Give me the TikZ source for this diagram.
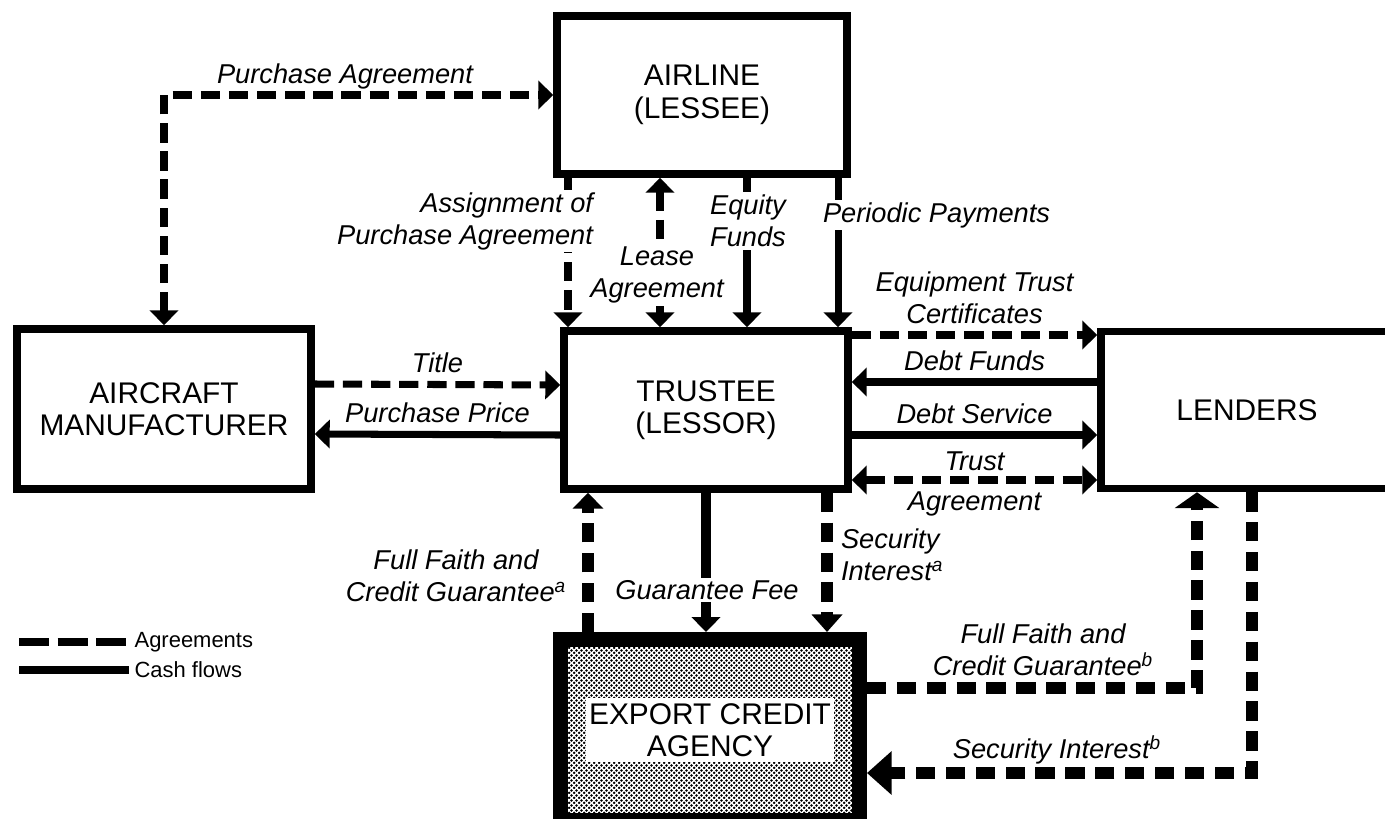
\documentclass[tikz,border=0pt]{standalone}
\usepackage{fontspec}
\setsansfont{Liberation Sans}
\usetikzlibrary{arrows.meta,patterns.meta}

\tikzdeclarepattern{
  name=ecadots,
  type=uncolored,
  bottom left={(0pt,0pt)},
  top right={(3pt,3pt)},
  tile size={(3pt,3pt)},
  code={
    \fill (0.75pt,0.75pt) circle [radius=0.9pt];
    \fill (2.25pt,2.25pt) circle [radius=0.9pt];
  }
}

\begin{document}
\begin{tikzpicture}[
  x=0.2mm, y=-0.2mm,
  font=\sffamily,
  >={Triangle[width=16pt,length=8.5pt]},
  box/.style={draw, line width=4.3pt, align=center, inner sep=0pt,
              font=\sffamily\fontsize{17}{18.5}\selectfont},
  lbl/.style={align=center, inner sep=1.5pt,
              font=\sffamily\itshape\fontsize{15.5}{18.2}\selectfont},
  mask/.style={lbl, fill=white},
  agr/.style={line width=4pt, dash pattern=on 11pt off 5pt},
  cash/.style={line width=4pt},
  agrH/.style={line width=6.5pt, dash pattern=on 11pt off 6pt},
  cashH/.style={line width=5.5pt},
  legtxt/.style={anchor=west, inner sep=3pt,
                 font=\sffamily\fontsize{12.5}{14}\selectfont},
]
\useasboundingbox (0,0) rectangle (1385,818);

%---------------------------------------------------------------- boxes ---
\node[box, minimum width=58mm, minimum height=31.6mm] (airline) at (702,95)
  {AIRLINE\\(LESSEE)};
\node[box, minimum width=56.8mm, minimum height=31.6mm] (trustee) at (706,410)
  {TRUSTEE\\(LESSOR)};
\node[box, minimum width=58.8mm, minimum height=32mm] (mfr) at (164,409)
  {AIRCRAFT\\MANUFACTURER};
\node[box, minimum width=58.4mm, minimum height=31.4mm] (lenders) at (1247,410)
  {LENDERS};
\node[box, line width=8.5pt, pattern=ecadots, minimum width=59.8mm,
      minimum height=36.2mm] (eca) at (710,730) {};
\node[box, draw=none, fill=white, inner xsep=2pt, inner ysep=3pt] (ecatxt)
  at (eca.center) {EXPORT CREDIT\\AGENCY};

%-------------------------------------------------------- airline side ---
\draw[agr,<->] (mfr.north) -- (mfr.north |- airline.west) -- (airline.west);
\node[lbl] (purchlbl) at (345,76) {Purchase Agreement};

\draw[agr,->] ([xshift=-27.6mm]trustee.north |- airline.south) -- ([xshift=-27.6mm]trustee.north);
\draw[agr,<->] ([xshift=-9.2mm]trustee.north |- airline.south) -- ([xshift=-9.2mm]trustee.north);
\draw[cash,->] ([xshift=8.2mm]trustee.north |- airline.south) -- ([xshift=8.2mm]trustee.north);
\draw[cash,->] ([xshift=26.4mm]trustee.north |- airline.south) -- ([xshift=26.4mm]trustee.north);

\node[mask, anchor=east, align=right] (assignlbl) at (596,221) {Assignment of\\Purchase Agreement};
\node[mask] (leaselbl) at (657,275) {Lease\\Agreement};
\node[mask] (equitylbl) at (748,221) {Equity\\Funds};
\node[mask, anchor=west] (periodlbl) at (820,215) {Periodic Payments};

%------------------------------------------------------ manufacturer ---
\draw[agr,->] ([yshift=5mm]mfr.east) -- node[lbl,above=3pt] {Title} ([yshift=5mm]trustee.west);
\draw[cash,<-] ([yshift=-5mm]mfr.east) -- node[lbl,above=3pt] {Purchase Price} ([yshift=-5mm]trustee.west);

%----------------------------------------------------------- lenders ---
\draw[agr,->] ([yshift=15mm]trustee.east) --
  node[lbl,above=3pt] {Equipment Trust\\Certificates} ([yshift=15mm]lenders.west);
\draw[cash,<-] ([yshift=5.6mm]trustee.east) --
  node[lbl,above=3pt] {Debt Funds} ([yshift=5.6mm]lenders.west);
\draw[cash,->] ([yshift=-5mm]trustee.east) --
  node[lbl,above=3pt] {Debt Service} ([yshift=-5mm]lenders.west);
\draw[agr,<->] ([yshift=-14mm]trustee.east) --
  node[lbl,above=2pt] {Trust} node[lbl,below=3pt] {Agreement} ([yshift=-14mm]lenders.west);

%--------------------------------------------------- export credit ---
\draw[agrH,-{Triangle[width=17pt,length=9pt]}] ([xshift=-23.6mm]trustee.south |- eca.north) -- ([xshift=-23.6mm]trustee.south);
\draw[cashH,->] (trustee.south) -- (trustee.south |- eca.north);
\draw[agrH,-{Triangle[width=17pt,length=10pt]}] ([xshift=24.2mm]trustee.south) -- ([xshift=24.2mm]trustee.south |- eca.north);

\node[lbl] (ffalbl) at (456,576) {Full Faith and\\Credit Guarantee\textsuperscript{a}};
\node[mask] (feelbl) at (707,590) {Guarantee Fee};
\node[lbl, anchor=west, align=left] (secalbl) at (838,555) {Security\\Interest\textsuperscript{a}};

\draw[agrH,-{Triangle[width=25pt,length=9pt]}] ([yshift=8.4mm]eca.east) -| ([xshift=-10mm]lenders.south);
\draw[agrH,-{Triangle[width=24pt,length=14pt]}] ([xshift=1mm]lenders.south) |- ([yshift=-8.6mm]eca.east);

\node[lbl] (ffblbl) at (1043,650) {Full Faith and\\Credit Guarantee\textsuperscript{b}};
\node[lbl] (secblbl) at (1057,750) {Security Interest\textsuperscript{b}};

%------------------------------------------------------------ legend ---
\coordinate (agrkey) at (19,642);
\coordinate (cashkey) at (19,670);
\node[legtxt] (agrtxt) at (129,642) {Agreements};
\node[legtxt] (cashtxt) at (129,670) {Cash flows};
\draw[agr, dash pattern=on 17pt off 5pt] (agrkey) -- (agrtxt.west);
\draw[cash] (cashkey) -- (cashtxt.west);

\end{tikzpicture}
\end{document}
